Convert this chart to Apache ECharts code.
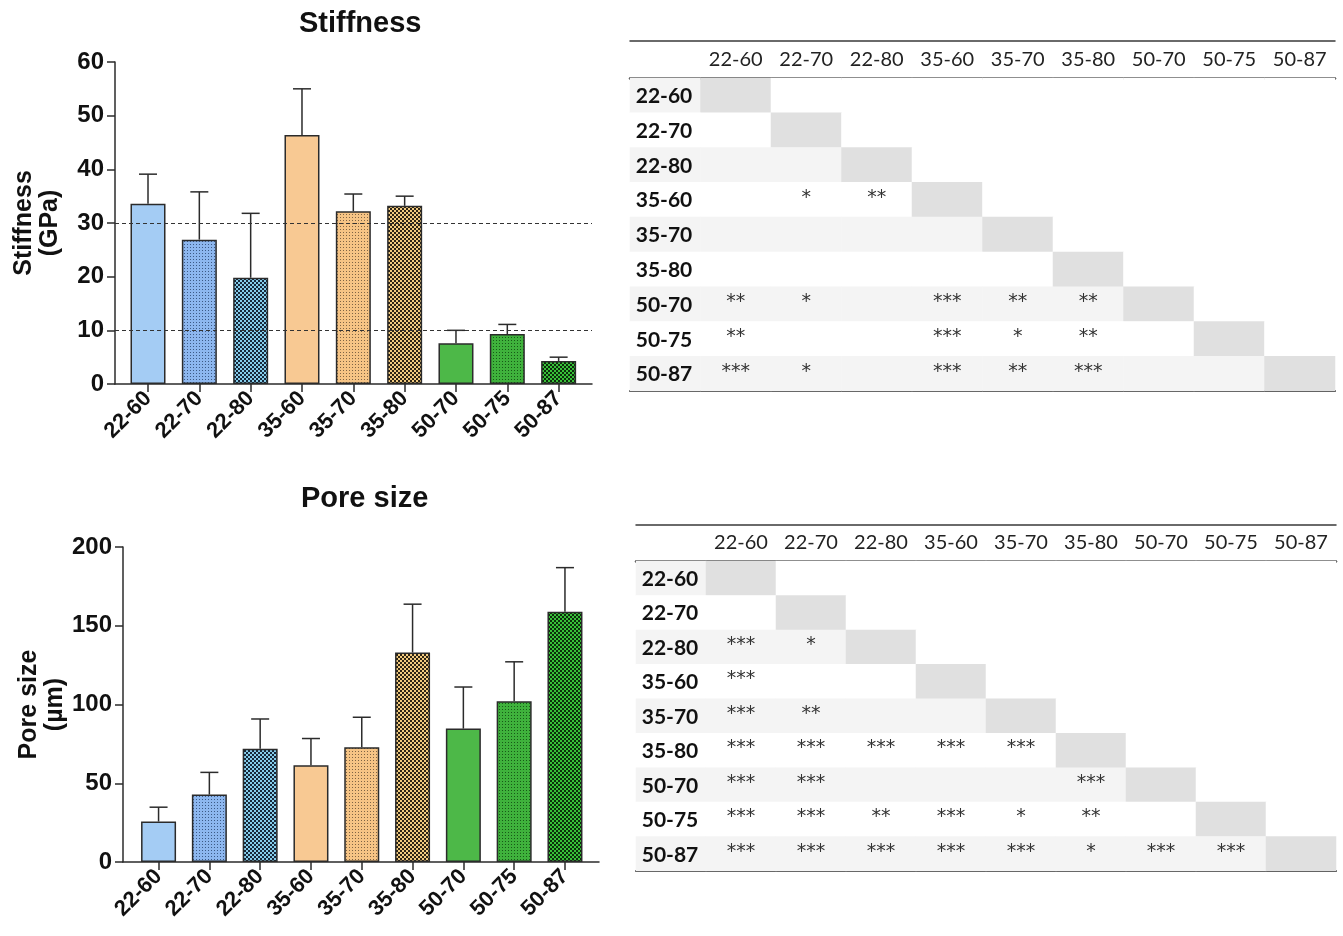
<!DOCTYPE html>
<html><head><meta charset="utf-8">
<script src="https://cdn.jsdelivr.net/npm/echarts@6/dist/echarts.min.js"></script>
<style>html,body{margin:0;padding:0;background:#fff}#c{width:1343px;height:936px}</style>
</head><body><div id="c"></div>
<script>
// ---------- DATA ----------
const categories = ['22-60','22-70','22-80','35-60','35-70','35-80','50-70','50-75','50-87'];
const stiffnessMean = [33.6, 26.9, 19.8, 46.4, 32.2, 33.2, 7.6, 9.3, 4.3];
const stiffnessSD   = [5.5, 8.9, 12.0, 8.6, 3.2, 1.8, 2.4, 1.8, 0.7];
const stiffnessRefLines = [10, 30];
const poreMean = [25.7, 42.8, 71.9, 61.5, 72.9, 133.0, 84.7, 102.0, 158.9];
const poreSD   = [9.1, 14.1, 18.9, 16.9, 19.0, 30.7, 26.4, 25.1, 28.0];
const stiffnessStars = [
  ['','','','','','','','',''],
  ['','','','','','','','',''],
  ['','','','','','','','',''],
  ['','*','**','','','','','',''],
  ['','','','','','','','',''],
  ['','','','','','','','',''],
  ['**','*','','***','**','**','','',''],
  ['**','','','***','*','**','','',''],
  ['***','*','','***','**','***','','','']
];
const poreStars = [
  ['','','','','','','','',''],
  ['','','','','','','','',''],
  ['***','*','','','','','','',''],
  ['***','','','','','','','',''],
  ['***','**','','','','','','',''],
  ['***','***','***','***','***','','','',''],
  ['***','***','','','','***','','',''],
  ['***','***','**','***','*','**','','',''],
  ['***','***','***','***','***','*','***','***','']
];

// ---------- STYLE ----------
const AX = '#2b2b2b';
const FONT = 'Liberation Sans, Arial, sans-serif';
const TFONT = 'Lato, "Open Sans", sans-serif';
function pattern(base, dark, type) {
  const c = document.createElement('canvas');
  const g = c.getContext('2d');
  if (type === 'dots') {
    c.width = 3; c.height = 3;
    g.fillStyle = base; g.fillRect(0,0,3,3);
    g.fillStyle = dark; g.fillRect(1,1,1,1);
  } else {
    c.width = 4; c.height = 4;
    g.fillStyle = dark; g.fillRect(0,0,4,4);
    g.fillStyle = base; g.fillRect(0,0,2,2); g.fillRect(2,2,2,2);
  }
  return {image: c, repeat: 'repeat'};
}
const fills = [
  '#A4CCF4',
  pattern('#8DB7EF', '#3C5A86', 'dots'),
  pattern('#86CDEB', '#17283A', 'check'),
  '#F8C993',
  pattern('#F6C485', '#7F6444', 'dots'),
  pattern('#F2CB80', '#2E2414', 'check'),
  '#4DB848',
  pattern('#3FB23C', '#175A17', 'dots'),
  pattern('#38C038', '#0B2E0B', 'check')
];
const idx = categories.map((_, i) => i);

function barChartAxes(gi, xmin, xmax, ymax, yint, name) {
  const x = {
    gridIndex: gi, type: 'value', min: xmin, max: xmax,
    axisLine: {onZero: false, lineStyle: {color: AX, width: 1.5}},
    axisTick: {show: true, customValues: idx, length: 8, lineStyle: {color: AX, width: 1.5}},
    axisLabel: {customValues: idx, formatter: v => categories[Math.round(v)], rotate: 45, margin: 11,
      fontFamily: FONT, fontWeight: 'bold', fontSize: 22, color: '#111'},
    splitLine: {show: false}
  };
  const y = {
    gridIndex: gi, type: 'value', min: 0, max: ymax, interval: yint,
    name: name, nameLocation: 'middle', nameGap: 52, nameRotate: 90,
    nameTextStyle: {fontFamily: FONT, fontWeight: 'bold', fontSize: 25, color: '#111', lineHeight: 26},
    axisLine: {show: true, onZero: false, lineStyle: {color: AX, width: 1.5}},
    axisTick: {show: true, length: 8, lineStyle: {color: AX, width: 1.5}},
    axisLabel: {margin: 11, fontFamily: FONT, fontWeight: 'bold', fontSize: 24, color: '#111'},
    splitLine: {show: false}
  };
  return [x, y];
}

function barSeries(ai, means) {
  return {
    type: 'bar', xAxisIndex: ai, yAxisIndex: ai, barWidth: 35, z: 3,
    data: means.map((m, i) => ({value: [i, m], itemStyle: {color: fills[i]}})),
    itemStyle: {borderColor: AX, borderWidth: 1.5},
    emphasis: {disabled: true}
  };
}
function errSeries(ai, means, sds) {
  return {
    type: 'custom', xAxisIndex: ai, yAxisIndex: ai, z: 4,
    data: means.map((m, i) => [i, m, m + sds[i]]),
    encode: {x: 0, y: [1, 2]},
    renderItem: (params, api) => {
      const x = api.value(0);
      const p1 = api.coord([x, api.value(1)]);
      const p2 = api.coord([x, api.value(2)]);
      const hw = 9;
      const st = {stroke: AX, lineWidth: 1.5};
      return {type: 'group', children: [
        {type: 'line', shape: {x1: p1[0], y1: p1[1], x2: p2[0], y2: p2[1]}, style: st},
        {type: 'line', shape: {x1: p2[0] - hw, y1: p2[1], x2: p2[0] + hw, y2: p2[1]}, style: st}
      ]};
    }
  };
}

// ---------- TABLE ----------
const tableCols = [''].concat(categories);
function tableAxes(gi, offTop) {
  const base = {gridIndex: gi, type: 'category', data: tableCols, axisTick: {show: false}, splitLine: {show: false}};
  return [
    Object.assign({}, base, {position: 'top', axisLine: {lineStyle: {color: '#3a3a3a', width: 2.5}},
      axisLabel: {interval: 0, margin: 8, fontFamily: TFONT, fontSize: 20, color: '#222'}}),
    Object.assign({}, base, {position: 'top', offset: offTop, axisLine: {lineStyle: {color: '#3a3a3a', width: 1.5}}, axisLabel: {show: false}}),
    Object.assign({}, base, {position: 'bottom', axisLine: {lineStyle: {color: '#3a3a3a', width: 2}}, axisLabel: {show: false}})
  ];
}
function tableSeries(xi, yi, stars) {
  const data = [];
  for (let r = 0; r < categories.length; r++) {
    for (let c = 0; c < tableCols.length; c++) {
      let color = '#ffffff';
      if (c - 1 === r) color = '#E0E0E0';
      else if ((c === 0 || c - 1 < r) && r % 2 === 0) color = '#F4F4F4';
      const item = {value: [c, r, 1], itemStyle: {color: color}};
      if (c === 0) item.label = {position: 'insideLeft', distance: 6, offset: [0, 1], fontFamily: TFONT, fontWeight: 'bold', fontSize: 21, color: '#111'};
      data.push(item);
    }
  }
  return {
    type: 'heatmap', xAxisIndex: xi, yAxisIndex: yi, data: data,
    emphasis: {disabled: true},
    label: {show: true, fontFamily: 'DejaVu Sans', fontSize: 19, color: '#333', offset: [0, -2],
      formatter: p => {
        const c = p.value[0], r = p.value[1];
        return c === 0 ? categories[r] : stars[r][c - 1];
      }}
  };
}

const [sx, sy] = barChartAxes(0, -0.643, 8.65, 60, 10, 'Stiffness\n(GPa)');
const [px, py] = barChartAxes(1, -0.70, 8.67, 200, 50, 'Pore size\n(µm)');
const t1 = tableAxes(2, 37);
const t2 = tableAxes(3, 36);

const option = {
  animation: false,
  backgroundColor: '#fff',
  title: [
    {text: 'Stiffness', left: 294, top: 4, textStyle: {fontFamily: FONT, fontWeight: 'bold', fontSize: 29, color: '#111'}},
    {text: 'Pore size', left: 296, top: 479, textStyle: {fontFamily: FONT, fontWeight: 'bold', fontSize: 29, color: '#111'}}
  ],
  grid: [
    {left: 115, top: 62, width: 477, height: 322},
    {left: 123, top: 547, width: 476, height: 315},
    {left: 630, top: 78, width: 705, height: 313},
    {left: 636, top: 561, width: 700, height: 310}
  ],
  xAxis: [sx, px].concat(t1, t2),
  yAxis: [sy, py,
    {gridIndex: 2, type: 'category', data: categories, inverse: true, show: false},
    {gridIndex: 3, type: 'category', data: categories, inverse: true, show: false}],
  series: [
    {type: 'line', xAxisIndex: 0, yAxisIndex: 0, data: [], z: 1, silent: true,
      markLine: {symbol: 'none', silent: true, label: {show: false},
        lineStyle: {color: '#333', width: 1.2, type: [4, 3]},
        data: stiffnessRefLines.map(v => ({yAxis: v}))}},
    barSeries(0, stiffnessMean),
    errSeries(0, stiffnessMean, stiffnessSD),
    barSeries(1, poreMean),
    errSeries(1, poreMean, poreSD),
    tableSeries(2, 2, stiffnessStars),
    tableSeries(5, 3, poreStars)
  ]
};
const chart = echarts.init(document.getElementById('c'), null, {renderer: 'canvas'});
chart.setOption(option);
</script></body></html>
